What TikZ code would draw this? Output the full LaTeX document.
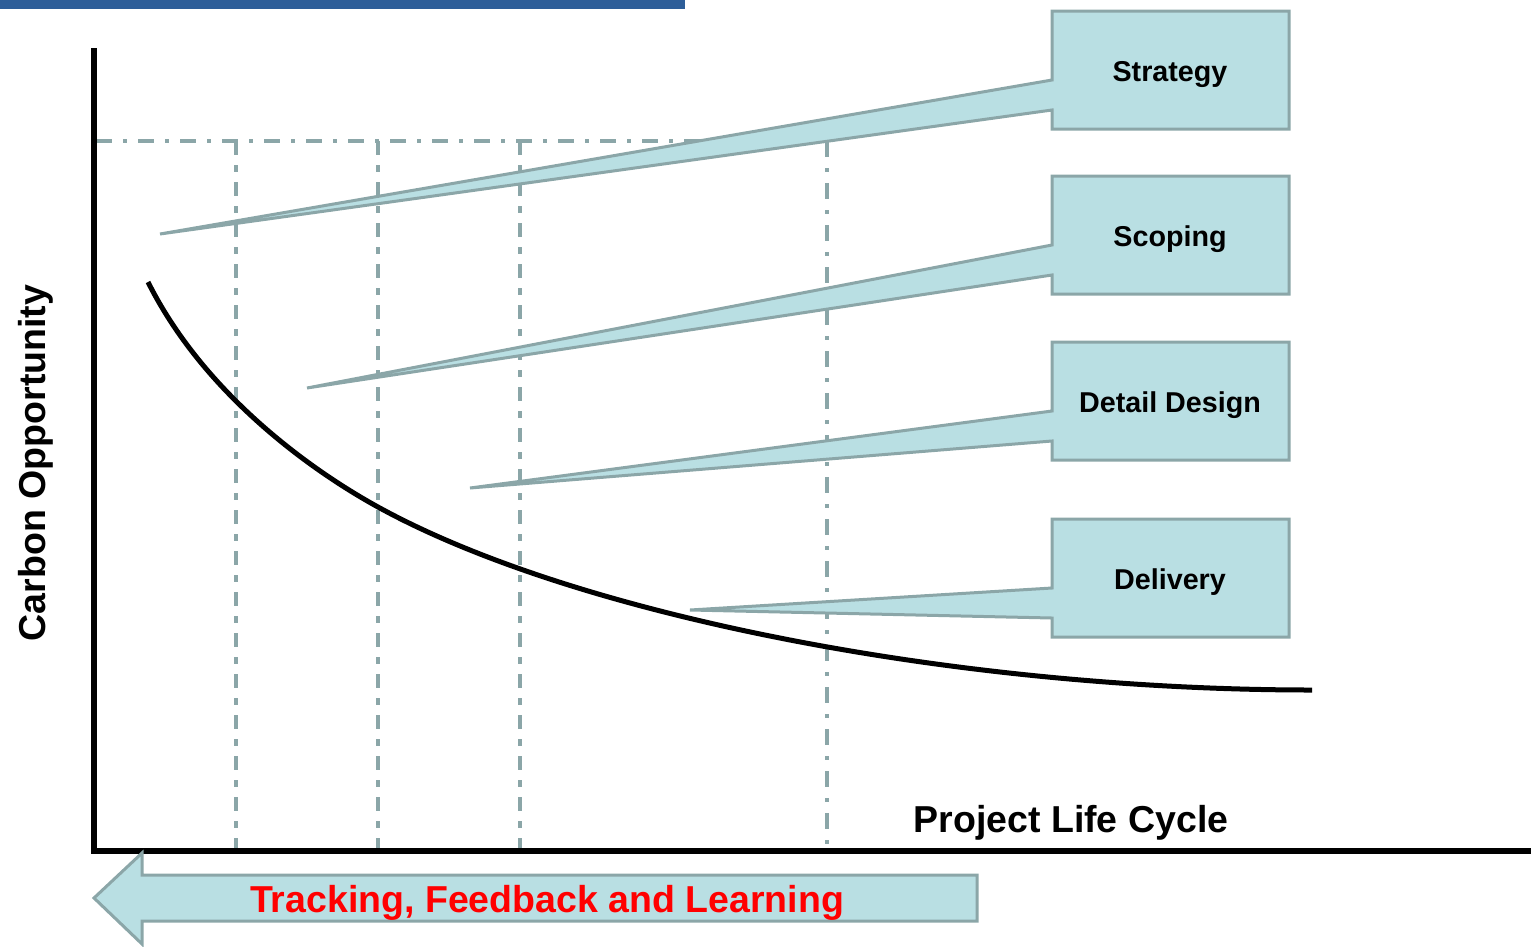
\documentclass[tikz,border=0pt]{standalone}
\usepackage{fontspec}
\setmainfont{Liberation Sans}
\definecolor{callfill}{RGB}{185,223,227}
\definecolor{callline}{RGB}{139,166,168}
\definecolor{barblue}{RGB}{46,94,153}
\begin{document}
\begin{tikzpicture}[x=1pt,y=-1pt,
  callout/.style={fill=callfill,draw=callline,line width=3pt,line join=miter},
  stage/.style={font=\fontsize{28.7}{30}\selectfont\bfseries,anchor=base},
  big/.style={font=\fontsize{37.5}{40}\selectfont\bfseries,anchor=base},
  gridline/.style={callline,line width=3.5pt,dash pattern=on 14pt off 10pt on 7pt off 10pt},
  gridalt/.style={callline,line width=3.5pt,dash pattern=on 16pt off 11pt on 4pt off 11pt}]
\useasboundingbox (0,0) rectangle (1531,946);
\fill[barblue] (0,0) rectangle (685,9);
% phase boundaries
\draw[gridalt] (96,141) -- (827,141);
\foreach \x in {236,378,520}
  \draw[gridline] (\x,141) -- (\x,851);
\draw[gridalt] (827,141) -- (827,851);
% opportunity curve
\draw[line width=5pt] (148,282) .. controls (203,392) and (308,468.5) .. (378,507)
  .. controls (578,617) and (962,690) .. (1312,690);
% callouts
\foreach \name/\txt/\top/\tx/\ty in {strat/Strategy/11/160/234,scop/Scoping/176/307/388,det/Detail Design/342/470/488,del/Delivery/519/690/610} {
  \coordinate (\name tip) at (\tx,\ty);
  \path[callout] (1052,\top) -- (1289,\top) -- (1289,\top+118) -- (1052,\top+118)
    -- (1052,\top+99) -- (\name tip) -- (1052,\top+69) -- cycle;
  \node[stage] (\name) at (1170,\top+70) {\txt};
}
% axes
\draw[line width=5.5pt] (94,48) -- (94,851) -- (1531,851);
\node[big,rotate=90] (ylabel) at (45,463) {Carbon Opportunity};
\node[big] (xlabel) at (1071,832) {Project Life Cycle};
% feedback arrow
\path[callout] (977,875) -- (142,875) -- (142,853) -- (94,898) -- (142,944) -- (142,921) -- (977,921) -- cycle;
\node[big,text=red] (track) at (547,912) {Tracking, Feedback and Learning};
\end{tikzpicture}
\end{document}
